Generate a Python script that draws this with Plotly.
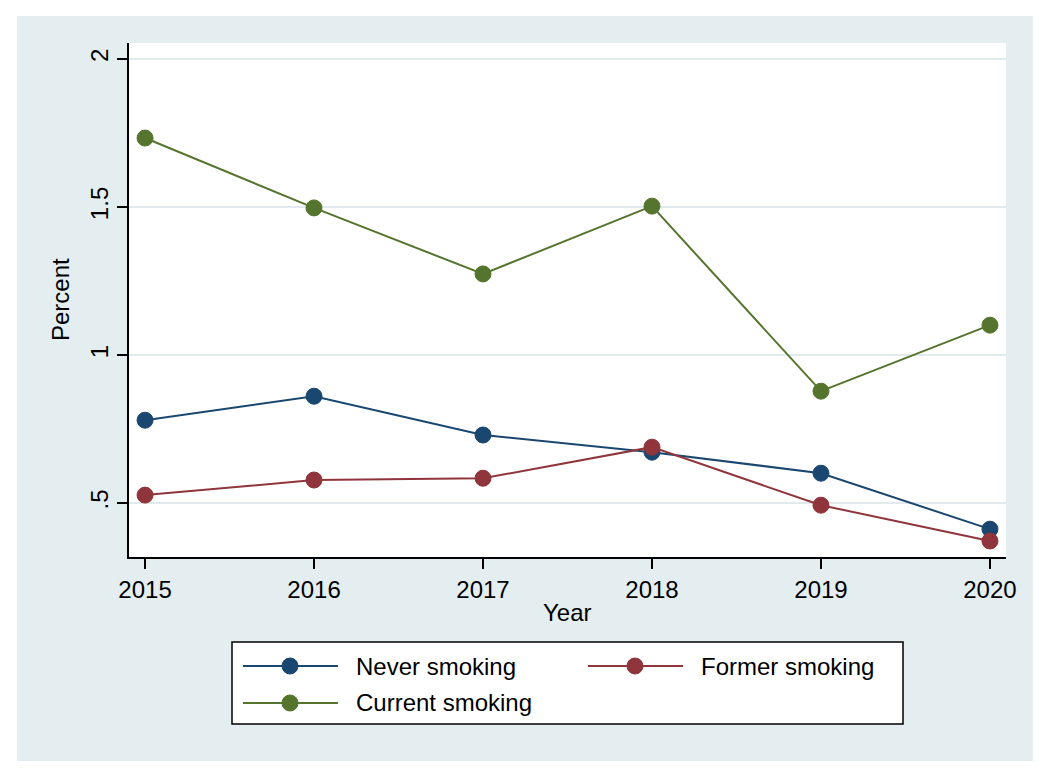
import plotly.graph_objects as go

years = [2015, 2016, 2017, 2018, 2019, 2020]
never_smoking = [0.780, 0.861, 0.730, 0.672, 0.601, 0.412]
former_smoking = [0.527, 0.578, 0.584, 0.689, 0.493, 0.372]
current_smoking = [1.733, 1.497, 1.274, 1.503, 0.878, 1.101]
series_names = ["Never smoking", "Former smoking", "Current smoking"]
y_tickvals = [0.5, 1, 1.5, 2]
y_ticktext = [".5", "1", "1.5", "2"]
x_tickvals = years

colors = ["#1A476F", "#90353B", "#55752F"]
BG = "#E4EDEF"
FONT = "Liberation Sans, Arial, Helvetica, sans-serif"

fig = go.Figure()
for name, vals, c in zip(series_names, [never_smoking, former_smoking, current_smoking], colors):
    fig.add_trace(go.Scatter(
        x=years, y=vals, mode="lines+markers", name=name,
        line=dict(color=c, width=2),
        marker=dict(color=c, size=16, line=dict(color=c, width=1)),
        showlegend=False,
    ))

# page offset from default body margin
OFF = 8
W, H = 1050, 776
# desired plot area in page pixels: x 129..1006, y 43..557
PL, PR, PT, PB = 129, 1006, 43, 557
L, T = PL - OFF, PT - OFF
R, B = W - (PR - OFF), H - (PB - OFF)
pw, ph = PR - PL, PB - PT

def px(x):
    return (x - PL) / pw

def py(y):
    return (PB - y) / ph

shapes = [
    dict(type="rect", xref="paper", yref="paper", x0=px(17), x1=px(1033), y0=py(761), y1=py(16),
         fillcolor=BG, line=dict(width=0), layer="below"),
    dict(type="rect", xref="paper", yref="paper", x0=0, x1=1, y0=0, y1=1,
         fillcolor="white", line=dict(width=0), layer="below"),
    dict(type="rect", xref="paper", yref="paper", x0=px(232), x1=px(903), y0=py(724), y1=py(642),
         fillcolor="white", line=dict(color="black", width=1.5), layer="above"),
]
annotations = [
    dict(text="Year", xref="paper", yref="paper", x=px(567), y=py(612), showarrow=False,
         xanchor="center", yanchor="middle", font=dict(size=24, color="black", family=FONT)),
    dict(text="Percent", xref="paper", yref="paper", x=px(60), y=py(300), showarrow=False,
         textangle=-90, xanchor="center", yanchor="middle", font=dict(size=24, color="black", family=FONT)),
]
legend_pos = [(243, 338, 290, 354, 666), (588, 683, 635, 699, 666), (243, 338, 290, 354, 703)]
for (lx0, lx1, mx, tx, ty), name, c in zip(legend_pos, series_names, colors):
    shapes.append(dict(type="line", xref="paper", yref="paper", x0=px(lx0), x1=px(lx1),
                       y0=py(ty), y1=py(ty), line=dict(color=c, width=2), layer="above"))
    shapes.append(dict(type="circle", xref="paper", yref="paper", xsizemode="pixel", ysizemode="pixel",
                       xanchor=px(mx), yanchor=py(ty), x0=-8, x1=8, y0=-8, y1=8,
                       fillcolor=c, line=dict(color=c, width=1), layer="above"))
    annotations.append(dict(text=name, xref="paper", yref="paper", x=px(tx), y=py(ty), showarrow=False,
                            xanchor="left", yanchor="middle", font=dict(size=24, color="black", family=FONT)))

fig.update_layout(
    width=W, height=H,
    margin=dict(l=L, r=R, t=T, b=B, pad=0),
    paper_bgcolor="white", plot_bgcolor="rgba(0,0,0,0)",
    font=dict(family=FONT, size=24, color="black"),
    shapes=shapes, annotations=annotations,
    showlegend=False,
)
fig.update_xaxes(
    range=[2014.905, 2020.095], tickvals=x_tickvals, showgrid=False, zeroline=False,
    showline=True, linecolor="black", linewidth=1.5,
    ticks="outside", ticklen=10, tickwidth=1.5, tickcolor="black",
    tickfont=dict(size=24, color="black", family=FONT),
)
fig.update_yaxes(
    range=[0.318, 2.054], tickvals=y_tickvals, ticktext=y_ticktext, tickangle=-90,
    showgrid=True, gridcolor="#E1EBED", gridwidth=2, zeroline=False,
    showline=True, linecolor="black", linewidth=1.5,
    ticks="outside", ticklen=10, tickwidth=1.5, tickcolor="black",
    tickfont=dict(size=24, color="black", family=FONT),
)
fig.write_html("out.html")
